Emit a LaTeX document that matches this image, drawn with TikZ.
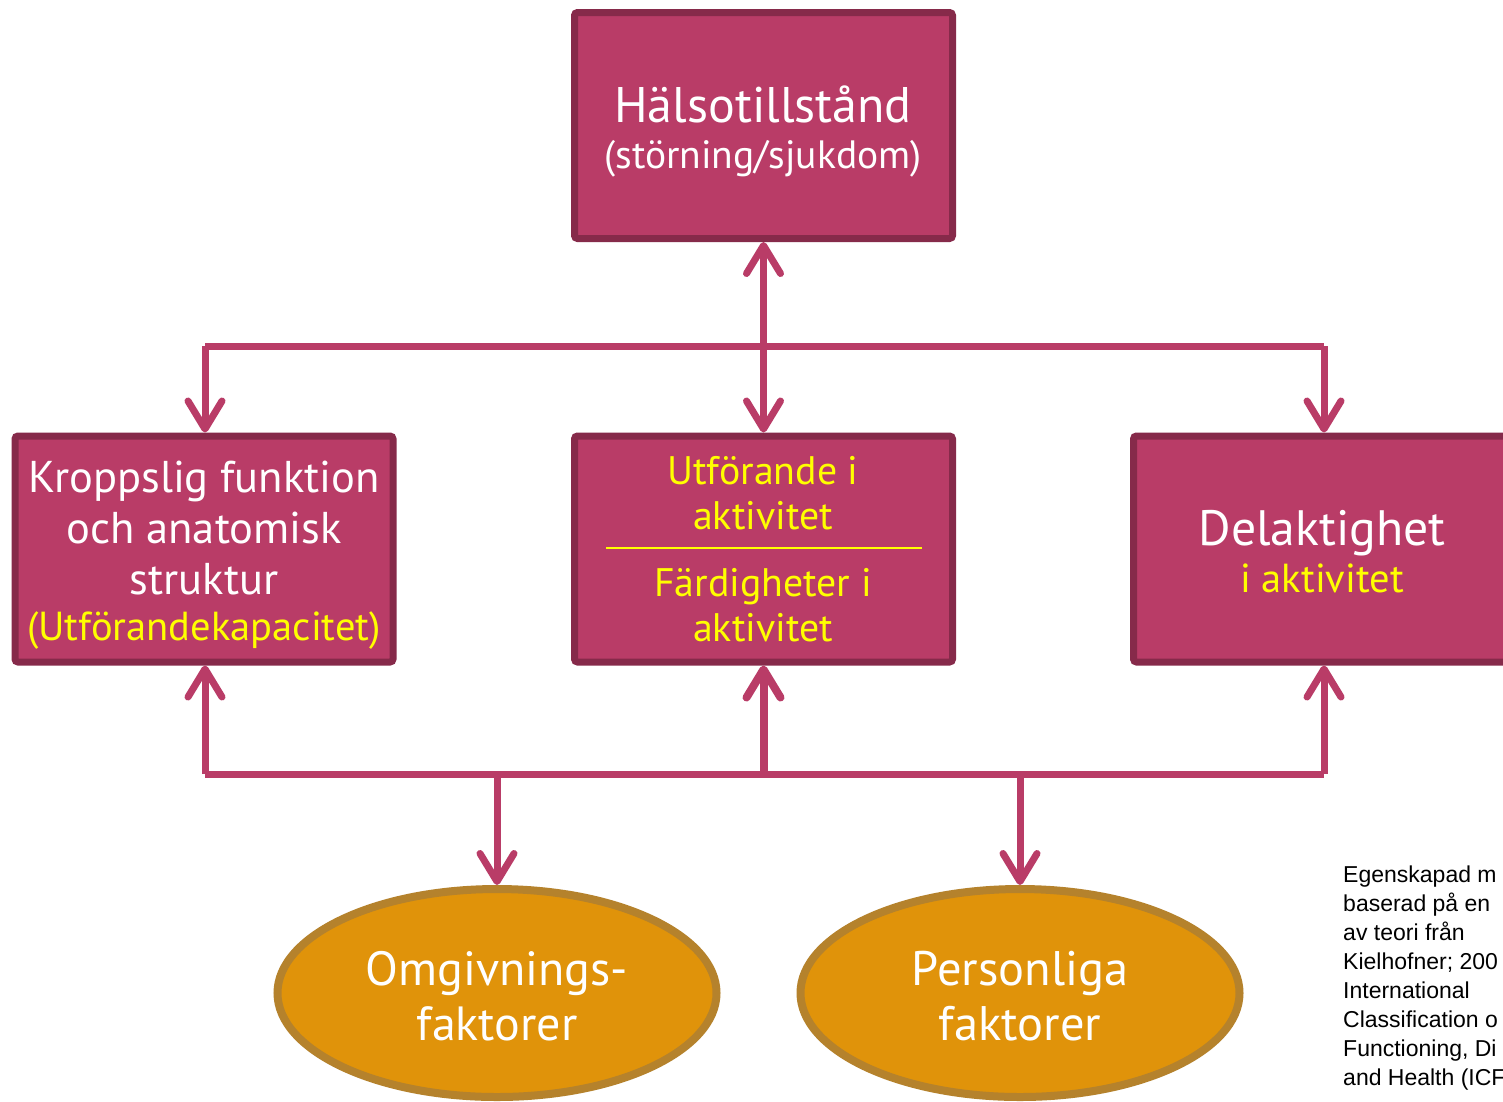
\documentclass[tikz,border=0pt]{standalone}
\usepackage{fontspec}
\setmainfont{PT Sans}
\newfontfamily\arialfont{Liberation Sans}
\usetikzlibrary{arrows.meta,shapes.geometric}
\definecolor{boxfill}{HTML}{B93C67}
\definecolor{boxline}{HTML}{862A4A}
\definecolor{ellfill}{HTML}{E0930A}
\definecolor{ellline}{HTML}{B5822C}
\definecolor{yel}{HTML}{FFFF00}
\tikzset{
  icfbox/.style={draw=boxline, fill=boxfill, line width=7pt, rounded corners=3pt,
    minimum width=378pt, minimum height=226pt, inner sep=0pt},
  icfell/.style={ellipse, draw=ellline, fill=ellfill, line width=8pt,
    minimum width=439pt, minimum height=208pt, inner sep=0pt},
  conn/.style={draw=boxfill, line width=7pt, line join=round},
  arr/.style={conn, -{Straight Barb[length=28pt,width=34pt,line cap=round,line join=round]}},
  arrboth/.style={conn, {Straight Barb[length=28pt,width=34pt,line cap=round,line join=round]}-{Straight Barb[length=28pt,width=34pt,line cap=round,line join=round]}},
  wtxt/.style={text=white, anchor=base, inner sep=0pt},
  ytxt/.style={text=yel, anchor=base, inner sep=0pt},
  fs/.style={font=\fontsize{#1}{#1}\selectfont},
  note/.style={font=\arialfont\fontsize{23}{28.9}\selectfont, align=left, anchor=north west, inner sep=0pt, text=black}
}
\begin{document}
\begin{tikzpicture}[x=1pt,y=-1pt]
\useasboundingbox (0,0) rectangle (1503,1101);
\clip (0,0) rectangle (1503,1101);
\fill[white] (0,0) rectangle (1503,1101);

% boxes
\node[icfbox] (top) at (763.5,125.5) {};
\node[icfbox] (left) at (204,549) {};
\node[icfbox] (midb) at (763.5,549) {};
\node[icfbox] (right) at (1322.5,549) {};

% ellipses
\node[icfell] (omg) at (497,993) {};
\node[icfell] (pers) at (1020,993) {};

% texts
\node[wtxt,fs=50] (t1) at (763,122) {Hälsotillstånd};
\node[wtxt,fs=39.5] (t2) at (763,168) {(störning/sjukdom)};

\node[wtxt,fs=44.5] (l1) at (204,492) {Kroppslig funktion};
\node[wtxt,fs=44.5] (l2) at (204,543) {och anatomisk};
\node[wtxt,fs=44.5] (l3) at (204,594) {struktur};
\node[ytxt,fs=40.5] (l4) at (204,640) {(Utförandekapacitet)};

\node[ytxt,fs=39.8] (m1) at (763,484) {Utförande i};
\node[ytxt,fs=39.8] (m2) at (763,529) {aktivitet};
\coordinate (sepl) at (606,548);
\coordinate (sepr) at (922,548);
\draw[yel, line width=2.5pt] (sepl) -- (sepr);
\node[ytxt,fs=39.8] (m3) at (763,596) {Färdigheter i};
\node[ytxt,fs=39.8] (m4) at (763,641) {aktivitet};

\node[wtxt,fs=49.7] (r1) at (1322,545) {Delaktighet};
\node[ytxt,fs=40.5] (r2) at (1322,592) {i aktivitet};

\node[wtxt,fs=48] (o1) at (497,985) {Omgivnings-};
\node[wtxt,fs=48] (o2) at (497,1040) {faktorer};
\node[wtxt,fs=48.5] (p1) at (1020,985) {Personliga};
\node[wtxt,fs=48.5] (p2) at (1020,1040) {faktorer};

% connectors
\coordinate (hc) at (763.5,346);
\coordinate (hl) at (205,346);
\coordinate (hr) at (1324,346);
\coordinate (bc) at (763.5,774);
\coordinate (bl) at (205,774);
\coordinate (br) at (1324,774);
\coordinate (bo) at (497,774);
\coordinate (bp) at (1020,774);

\draw[conn] (hl) -- (hr);
\draw[arr] (hl) -- (hl |- left.north);
\draw[arr] (hr) -- (hr |- right.north);
\draw[arrboth] (top.south) -- (midb.north);

\draw[conn] (bl) -- (br);
\draw[arr] (bl) -- (bl |- left.south);
\draw[arr] (br) -- (br |- right.south);
\draw[arr, line width=8pt] (bc) -- (midb.south);
\draw[arr] (bo) -- (omg.north);
\draw[arr] (bp) -- (pers.north);

% note
\node[note] (credit) at (1343,866) {Egenskapad m\\baserad på en\\av teori från\\Kielhofner; 200\\International\\Classification o\\Functioning, Di\\and Health (ICF};
\end{tikzpicture}
\end{document}
